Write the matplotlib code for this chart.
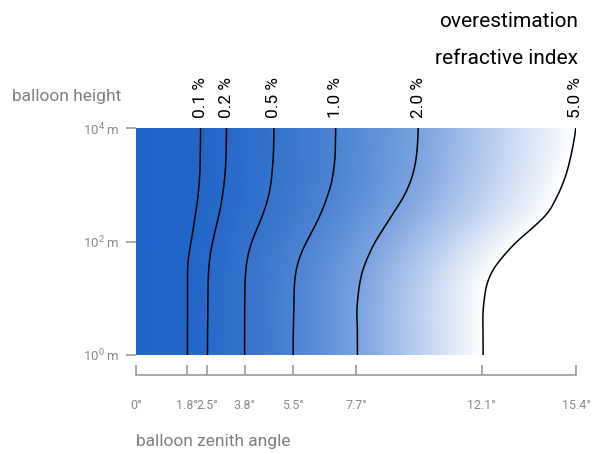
import numpy as np
import matplotlib
matplotlib.use('Agg')
import matplotlib.pyplot as plt
from matplotlib.colors import LinearSegmentedColormap
import matplotlib.transforms as mtransforms

plt.rcParams['font.family'] = ['Roboto', 'DejaVu Sans']
plt.rcParams['mathtext.fontset'] = 'custom'
plt.rcParams['mathtext.rm'] = 'Roboto'

# log10 of the balloon height in metres
log_height = [0, 0.25, 0.5, 0.75, 1.0, 1.25, 1.5, 1.75, 2.0,
              2.25, 2.5, 2.75, 3.0, 3.25, 3.5, 3.75, 4.0]

# overestimation of the refractive index (%) and the zenith angle (deg)
# at which that level is reached, for each height above
levels = [0.1, 0.2, 0.5, 1.0, 2.0, 5.0]
level_labels = ['0.1 %', '0.2 %', '0.5 %', '1.0 %', '2.0 %', '5.0 %']
angle_01 = [1.80, 1.80, 1.80, 1.80, 1.80, 1.80, 1.80, 1.84, 1.93,
            2.01, 2.09, 2.16, 2.21, 2.24, 2.25, 2.26, 2.26]
angle_02 = [2.50, 2.50, 2.51, 2.51, 2.52, 2.52, 2.54, 2.59, 2.68,
            2.80, 2.92, 3.01, 3.08, 3.13, 3.15, 3.16, 3.17]
angle_05 = [3.80, 3.80, 3.80, 3.80, 3.81, 3.81, 3.84, 3.91, 4.05,
            4.26, 4.46, 4.62, 4.72, 4.77, 4.81, 4.82, 4.83]
angle_10 = [5.50, 5.50, 5.51, 5.52, 5.53, 5.54, 5.60, 5.74, 5.97,
            6.24, 6.48, 6.67, 6.83, 6.92, 6.97, 6.98, 6.99]
angle_20 = [7.75, 7.75, 7.75, 7.72, 7.76, 7.82, 7.93, 8.13, 8.37,
            8.69, 9.01, 9.33, 9.57, 9.73, 9.82, 9.86, 9.88]
angle_50 = [12.15, 12.15, 12.14, 12.14, 12.19, 12.27, 12.48, 12.86, 13.32,
            13.91, 14.43, 14.70, 14.93, 15.10, 15.22, 15.32, 15.40]
angles = [angle_01, angle_02, angle_05, angle_10, angle_20, angle_50]

angle_ticks = [0, 1.8, 2.5, 3.8, 5.5, 7.7, 12.1, 15.4]
angle_tick_labels = ['0°', '1.8°', '2.5°', '3.8°', '5.5°', '7.7°', '12.1°', '15.4°']
height_ticks = [1, 100, 10000]
height_tick_labels = ['10$^0$ m', '10$^2$ m', '10$^4$ m']

fine = np.linspace(0, 4, 401)


def smooth_curve(a, w=12):
    y = np.interp(fine, log_height, a)
    padded = np.pad(y, w, mode='edge')
    kernel = np.ones(2 * w + 1) / (2 * w + 1)
    return np.convolve(padded, kernel, mode='valid')


curves = np.array([smooth_curve(a) for a in angles])

# value field between the curves, used for the colour background
ang = np.linspace(0, 15.4, 700)
field = np.array([np.interp(ang, np.r_[0, curves[:, i]], np.r_[0, levels])
                  for i in range(len(fine))])

cmap = LinearSegmentedColormap.from_list('blues', ['#1e63c8', '#ffffff'])

fig = plt.figure(figsize=(6.06, 4.54), dpi=100)
ax = fig.add_axes([136 / 606, 1 - 355 / 454, 440 / 606, 227 / 454])

ax.pcolormesh(ang, 10 ** fine, field, cmap=cmap, vmin=0, vmax=5,
              shading='auto', rasterized=True)

trans = mtransforms.blended_transform_factory(ax.transData, ax.transAxes)
for curve, label in zip(curves, level_labels):
    ax.plot(curve, 10 ** fine, color='black', lw=1.1)
    ax.text(curve[-1], 1.044, label, transform=trans, rotation=90,
            ha='center', va='bottom', fontsize=12.5, color='black')

ax.set_yscale('log')
ax.set_xlim(0, 15.4)
ax.set_ylim(1, 10000)

ax.set_xticks(angle_ticks)
ax.set_xticklabels(angle_tick_labels)
for lbl in ax.get_xticklabels():
    lbl.set_ha('left')
ax.set_yticks(height_ticks)
ax.set_yticklabels(height_tick_labels)
ax.yaxis.set_minor_locator(matplotlib.ticker.NullLocator())

for s in ['top', 'right', 'left']:
    ax.spines[s].set_visible(False)
ax.spines['bottom'].set_position(('outward', 14.4))
ax.spines['bottom'].set_color('#999999')
ax.spines['bottom'].set_linewidth(1.2)

ax.tick_params(axis='x', direction='in', length=7.2, width=1.2, color='#999999',
               labelcolor='#8a8a8a', labelsize=9, pad=17)
ax.tick_params(axis='y', direction='out', length=7.2, width=1.2, color='#999999',
               labelcolor='#8a8a8a', labelsize=9.5, pad=5)

fig.text(12 / 606, 1 - 101 / 454, 'balloon height', fontsize=12.5,
         color='#808080', va='baseline')
fig.text(136 / 606, 1 - 446 / 454, 'balloon zenith angle', fontsize=12.5,
         color='#808080', va='baseline')
fig.text(578 / 606, 1 - 27 / 454, 'overestimation', fontsize=15,
         color='black', ha='right', va='baseline')
fig.text(578 / 606, 1 - 64 / 454, 'refractive index', fontsize=15,
         color='black', ha='right', va='baseline')

fig.savefig('out.png', dpi=100)
